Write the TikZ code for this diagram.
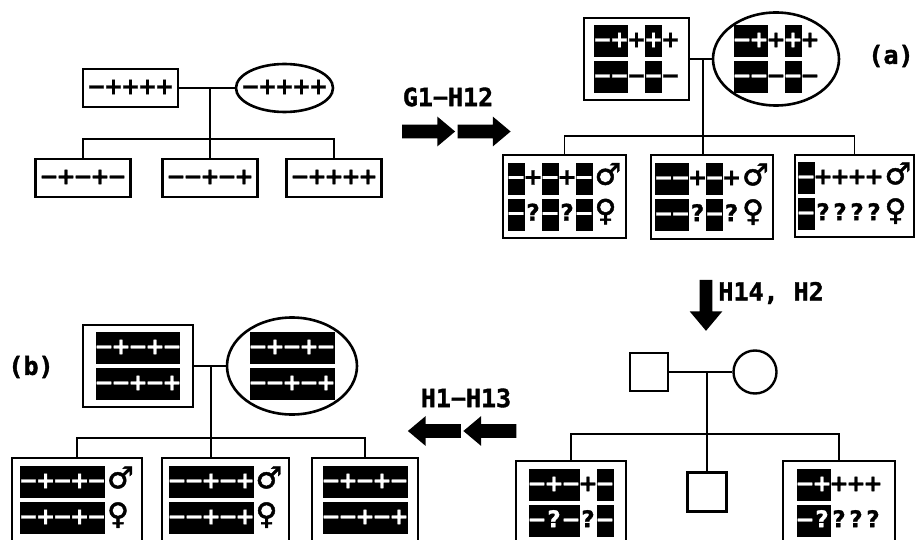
\documentclass[tikz,border=0pt]{standalone}
\usepackage{fontspec}
\setmainfont{DejaVu Sans}
\newfontfamily\hapfont{DejaVu Sans}[BoldFeatures={FakeBold=1.2}]
\newfontfamily\sexfont{DejaVu Sans}[FakeBold=1.5]
\newfontfamily\labfont{DejaVu Sans Mono}[BoldFeatures={FakeBold=1.5}]
\usetikzlibrary{shapes.geometric,shapes.arrows,positioning,calc}

% haplotype cells: \wt = plain, \bk = white on black
\newlength\hapw
\setlength\hapw{8.5pt}
\newcommand\hstrut{\rule[-4.9pt]{0pt}{16pt}}
\def\hapch#1{\makebox[\hapw]{\ifx#1-\char"2212\else#1\fi}}
\def\hapcells#1{\ifx#1\relax\else\hapch{#1}\expandafter\hapcells\fi}
\newcommand\wt[1]{\hapcells#1\relax}
\newcommand\bk[1]{{\setlength\fboxsep{0pt}\colorbox{black}{\color{white}\hstrut\hapcells#1\relax}}}
\newcommand\sexm{\kern1pt{\sexfont\mdseries\fontsize{15}{15}\selectfont\char"2642}}
\newcommand\sexf{\kern1pt{\sexfont\mdseries\fontsize{15}{15}\selectfont\char"2640}}
\newcommand\hrow[1]{\hbox{\hapfont\bfseries\fontsize{11.5}{13}\selectfont\hstrut#1}}
\newcommand\hpair[2]{\vbox{\offinterlineskip\hrow{#1}\kern2pt\hrow{#2}}}

\begin{document}
\begin{tikzpicture}[x=0.5pt, y=-0.5pt,
  genobox/.style={draw, rectangle, line width=1.3pt, inner sep=0pt},
  genoell/.style={draw, ellipse, line width=1.3pt, inner sep=0pt},
  plainsq/.style={draw, rectangle, line width=1.2pt, minimum size=19pt, inner sep=0pt},
  plaincirc/.style={draw, circle, line width=1.2pt, minimum size=21.5pt, inner sep=0pt},
  pedline/.style={line width=0.75pt},
  blockarrow/.style={single arrow, fill=black, inner xsep=0pt, inner ysep=3.25pt,
    minimum height=26.5pt, minimum width=14.5pt,
    single arrow head extend=4pt, single arrow head indent=0pt,
    single arrow tip angle=80},
  steplabel/.style={font=\labfont\bfseries\fontsize{12.5}{14}\selectfont, inner sep=0pt}
]
\useasboundingbox (0,0) rectangle (916,540);
\fill[white] (0,0) rectangle (916,540);
\clip (0,0) rectangle (916,540);

% starting family
\node[genobox, minimum width=47.5pt, minimum height=19pt] (faA) at (130.5,88) {\hrow{\wt{-++++}}};
\node[genoell, minimum width=48.5pt, minimum height=24pt,
  label={center:\hrow{\wt{-++++}}}] (maA) at (284.5,88) {};
\node[genobox, minimum width=47.5pt, minimum height=19pt] (c1A) at (83,178) {\hrow{\wt{-+-+-}}};
\node[genobox, minimum width=47.5pt, minimum height=19pt] (c2A) at (210,178) {\hrow{\wt{--+-+}}};
\node[genobox, minimum width=47.5pt, minimum height=19pt] (c3A) at (334,178) {\hrow{\wt{-++++}}};
\coordinate (mA) at (210,88);
\coordinate (sA) at (210,139);
\draw[pedline] (faA.east) -- (maA.west);
\draw[pedline] (mA) -- (c2A.north);
\draw[pedline] (c1A.north) |- (sA) -| (c3A.north);

% step G1-H12
\node[steplabel] (lblG) at (448,97) {G1−H12};
\node[blockarrow] (arG1) at (424.5,131.5) {};
\node[blockarrow] (arG2) at (480,131.5) {};

% (a)
\node[genobox, minimum width=52.5pt, minimum height=41pt] (faB) at (636.5,59)
  {\hpair{\bk{-+}\wt{+}\bk{+}\wt{+}}{\bk{--}\wt{-}\bk{-}\wt{-}}};
\node[genoell, minimum width=63pt, minimum height=46.5pt,
  label={center:\hpair{\bk{-+}\wt{+}\bk{+}\wt{+}}{\bk{--}\wt{-}\bk{-}\wt{-}}}] (maB) at (776,59) {};
\node[genobox, minimum width=61.5pt, minimum height=41.5pt] (c1B) at (564.5,196.5)
  {\hpair{\bk{-}\wt{+}\bk{-}\wt{+}\bk{-}\sexm}{\bk{-}\wt{?}\bk{-}\wt{?}\bk{-}\sexf}};
\node[genobox, minimum width=61pt, minimum height=42pt] (c2B) at (712,197)
  {\hpair{\bk{--}\wt{+}\bk{-}\wt{+}\sexm}{\bk{--}\wt{?}\bk{-}\wt{?}\sexf}};
\node[genobox, minimum width=59.5pt, minimum height=41pt] (c3B) at (854.5,196)
  {\hpair{\bk{-}\wt{++++}\sexm}{\bk{-}\wt{????}\sexf}};
\coordinate (mB) at (703,59);
\coordinate (sB) at (703,136);
\draw[pedline] (faB.east) -- (maB.west);
\draw[pedline] (mB) -- (mB |- c2B.north);
\draw[pedline] (c1B.north) |- (sB) -| (c3B.north);
\node[steplabel] (lblA) at (891,56) {(a)};

% step H14, H2
\node[blockarrow, rotate=270, minimum height=25.5pt, minimum width=16pt,
  inner ysep=3pt, single arrow head extend=5pt] (arH) at (706,301.5) {};
\node[steplabel, anchor=west] (lblH) at (718,293) {H14, H2};

% pedigree with unknown phase
\node[plainsq] (faC) at (649,372) {};
\node[plaincirc] (maC) at (755,372) {};
\node[genobox, minimum width=55pt, minimum height=42pt] (c1C) at (571,503)
  {\hpair{\bk{-+-}\wt{+}\bk{-}}{\bk{-?-}\wt{?}\bk{-}}};
\node[plainsq, minimum size=19.5pt] (c2C) at (707,492) {};
\node[genobox, minimum width=56pt, minimum height=42pt] (c3C) at (839,503)
  {\hpair{\bk{-+}\wt{+++}}{\bk{-?}\wt{???}}};
\coordinate (mC) at (707,372);
\coordinate (sC) at (707,434);
\draw[pedline] (faC.east) -- (maC.west);
\draw[pedline] (mC) -- (c2C.north);
\draw[pedline] (c1C.north) |- (sC) -| (c3C.north);

% step H1-H13
\node[steplabel] (lblH1) at (466,398) {H1−H13};
\node[blockarrow, rotate=180] (arL1) at (438.5,431) {};
\node[blockarrow, rotate=180] (arL2) at (494,431) {};

% (b)
\node[genobox, minimum width=55pt, minimum height=41pt] (faD) at (138,366)
  {\hpair{\bk{-+-+-}}{\bk{--+-+}}};
\node[genoell, minimum width=65pt, minimum height=48.5pt,
  label={center:\hpair{\bk{-+-+-}}{\bk{--+-+}}}] (maD) at (292,366) {};
\node[genobox, minimum width=65pt, minimum height=42pt] (c1D) at (77,500)
  {\hpair{\bk{-+-+-}\sexm}{\bk{-+-+-}\sexf}};
\node[genobox, minimum width=63.5pt, minimum height=42pt] (c2D) at (225.5,500)
  {\hpair{\bk{--+-+}\sexm}{\bk{--+-+}\sexf}};
\node[genobox, minimum width=53pt, minimum height=42pt] (c3D) at (365,500)
  {\hpair{\bk{-+-+-}}{\bk{--+-+}}};
\coordinate (mD) at (211,366);
\coordinate (sD) at (211,438);
\draw[pedline] (faD.east) -- (maD.west);
\draw[pedline] (mD) -- (mD |- c2D.north);
\draw[pedline] (c1D.north) |- (sD) -| (c3D.north);
\node[steplabel] (lblB) at (31,367) {(b)};
\end{tikzpicture}
\end{document}
